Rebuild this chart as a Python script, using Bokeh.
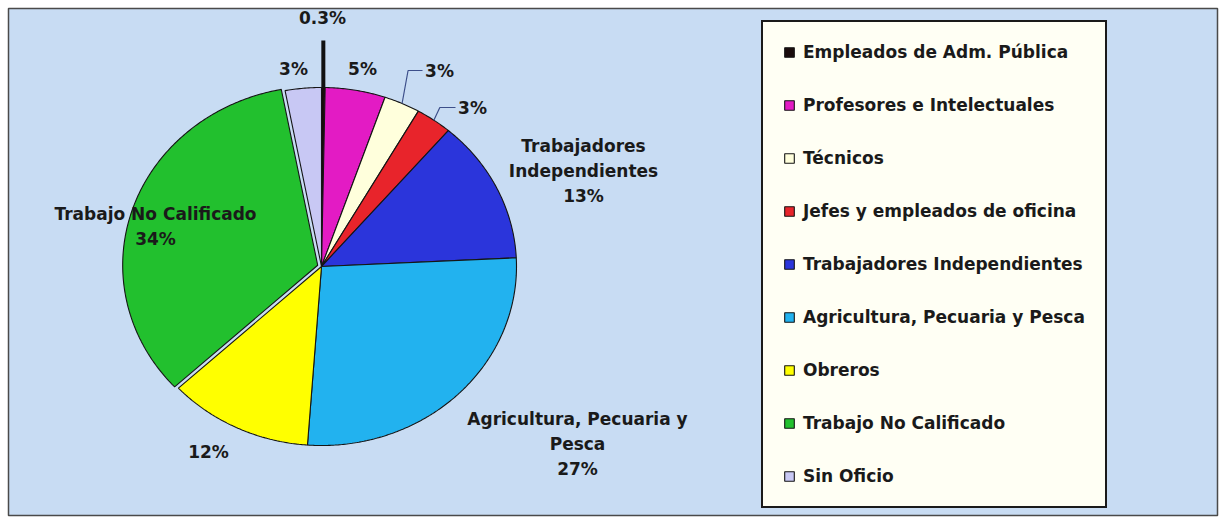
import numpy as np
from bokeh.plotting import figure
from bokeh.models import ColumnDataSource, Range1d, Legend, LegendItem
from bokeh.core.properties import value
from bokeh.embed import file_html
from bokeh.resources import INLINE

# ---------------- data ----------------
categories = ["Empleados de Adm. Pública", "Profesores e Intelectuales", "Técnicos",
              "Jefes y empleados de oficina", "Trabajadores Independientes",
              "Agricultura, Pecuaria y Pesca", "Obreros", "Trabajo No Calificado",
              "Sin Oficio"]
shares = [0.3, 5, 3, 3, 13, 27, 12, 34, 3]
pct_labels = ["0.3%", "5%", "3%", "3%", "13%", "27%", "12%", "34%", "3%"]
name_labels = ["", "", "", "", "Trabajadores\nIndependientes", "Agricultura, Pecuaria y\nPesca",
               "", "Trabajo No Calificado", ""]

# ---------------- styles / layout ----------------
colors = ["#1a0c0c", "#e31bc4", "#ffffdc", "#e8242b", "#2b35db",
          "#22b2ef", "#ffff00", "#22c02e", "#c8c8f4"]
explode = [0, 0, 0, 0, 0, 0, 0, 4, 0]
W, H = 1221, 523
CX, CY, RX, RY = 321, 266, 195, 179
FONT = "DejaVu Sans"
FS = "17px"
TXT = "#1a1a1a"

# label anchor points (screen-like coordinates, y downward)
label_pos = [(322, 17), (362, 68), (439, 70), (472, 107), (583, 145),
             (577, 418), (208, 451), (155, 213), (293, 68)]
leader = [False, False, True, True, False, False, False, False, False]

# ---------------- geometry from data ----------------
total = float(sum(shares))
ends = np.cumsum(shares) / total * 2 * np.pi
starts = np.concatenate([[0.0], ends[:-1]])
mids = (starts + ends) / 2

xs, ys = [], []
for a0, a1, m, e in zip(starts, ends, mids, explode):
    n = max(4, int(np.degrees(a1 - a0) * 2))
    th = np.linspace(a0, a1, n)
    ox, oy = e * np.sin(m), -e * np.cos(m)
    xs.append([CX + ox] + list(CX + ox + RX * np.sin(th)))
    ys.append([CY + oy] + list(CY + oy - RY * np.cos(th)))

src = ColumnDataSource(dict(xs=xs, ys=ys, color=colors, name=categories))

p = figure(width=W, height=H, output_backend="svg", toolbar_location=None,
           x_range=Range1d(8, W - 4), y_range=Range1d(H - 8, 8),
           min_border_left=8, min_border_right=4, min_border_top=8, min_border_bottom=8)
p.axis.visible = False
p.grid.visible = False
p.background_fill_color = "#c8dcf3"
p.border_fill_color = "white"
p.outline_line_color = "#4a4a4a"
p.outline_line_width = 1.5

pie = p.patches("xs", "ys", source=src, fill_color="color",
                line_color="#151515", line_width=1.1)

# black leader for the 0.3% slice
rim0x = CX + RX * np.sin(mids[0])
rim0y = CY - RY * np.cos(mids[0])
p.line([rim0x, rim0x], [rim0y, label_pos[0][1] + 23], line_color="#111111", line_width=4)

# leaders for small slices
for i in range(len(shares)):
    if leader[i]:
        sx = CX + RX * np.sin(mids[i])
        sy = CY - RY * np.cos(mids[i])
        lx, ly = label_pos[i]
        p.line([sx, sx + 6, lx - 17], [sy, ly, ly], line_color="#3d4f8a", line_width=1.2)

# pie labels
tx, ty, tt = [], [], []
for i in range(len(shares)):
    lx, ly = label_pos[i]
    lines = [l for l in name_labels[i].split("\n") if l] + [pct_labels[i]]
    for k, l in enumerate(lines):
        tx.append(lx)
        ty.append(ly + 25 * k)
        tt.append(l)
tsrc = ColumnDataSource(dict(x=tx, y=ty, text=tt))
p.text("x", "y", text="text", source=tsrc, text_align="center", text_baseline="middle",
       text_font=value(FONT), text_font_style="bold", text_font_size=FS, text_color=TXT)

# legend
items = [LegendItem(label=c, renderers=[pie], index=i) for i, c in enumerate(categories)]
legend = Legend(items=items, location=(753, 7), orientation="vertical",
                label_text_font=FONT, label_text_font_style="bold",
                label_text_font_size=FS, label_text_color=TXT,
                glyph_width=12, glyph_height=12, label_height=20, label_standoff=8,
                spacing=33, padding=20, margin=0,
                background_fill_color="#fffff4", background_fill_alpha=1,
                border_line_color="#1a1a1a", border_line_width=2, border_line_alpha=1)
p.add_layout(legend)

open("out.html", "w").write(file_html(p, INLINE))
